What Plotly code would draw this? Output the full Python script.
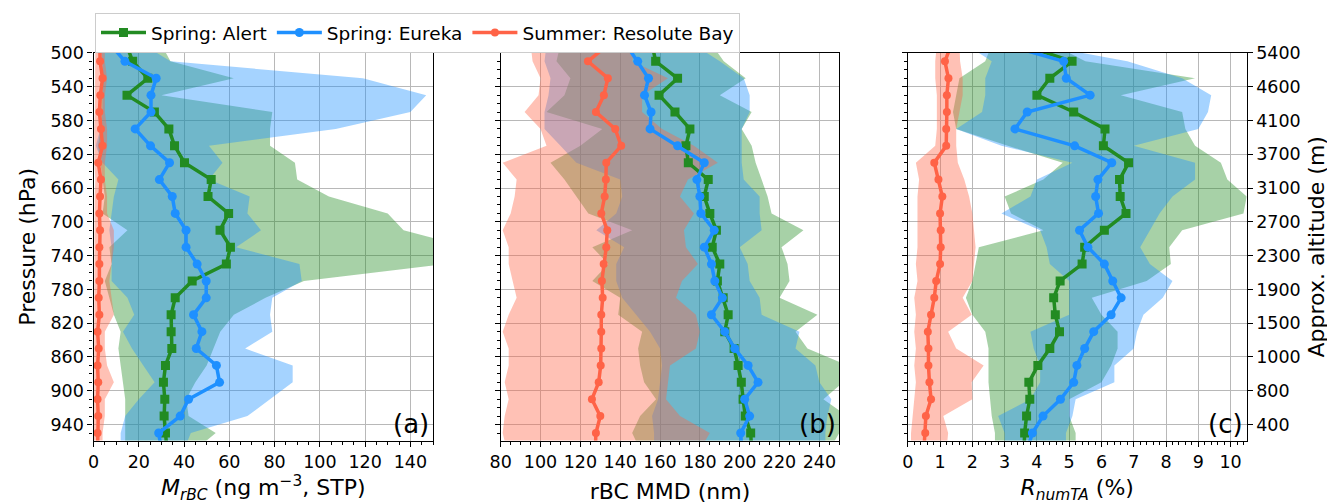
import plotly.graph_objects as go

# ---------------- data ----------------
levels = [490, 510, 530, 550, 570, 590, 610, 630, 650, 670, 690, 710, 730,
          750, 770, 790, 810, 830, 850, 870, 890, 910, 930, 950, 970]

p_ticks = [500, 540, 580, 620, 660, 700, 740, 780, 820, 860, 900, 940]
alt_labels = ["5400", "4600", "4100", "3700", "3100", "2700", "2300",
              "1900", "1500", "1000", "800", "400"]

series_names = ["Spring: Alert", "Spring: Eureka", "Summer: Resolute Bay"]

# panel (a): M_rBC
alert_a = [14.5, 17.3, 24.0, 14.8, 26.9, 33.3, 35.8, 40.2, 52.0, 50.6, 59.7, 55.9, 60.5,
           58.7, 43.6, 36.1, 34.3, 34.3, 34.6, 31.8, 30.9, 31.5, 31.2, 31.8, 32.5]
eureka_a = [7.5, 13.9, 27.7, 25.4, 25.4, 18.4, 25.2, 33.6, 29.1, 34.8, 36.1, 40.9, 40.9,
            45.8, 49.8, 49.8, 44.2, 47.9, 45.4, 54.3, 55.7, 42.0, 38.3, 28.8, 30.0]
resolute_a = [2.8, 2.9, 4.0, 3.0, 2.6, 3.3, 4.0, 2.1, 3.3, 2.9, 2.6, 2.9, 2.6,
              2.6, 2.6, 2.3, 2.6, 1.8, 2.3, 1.8, 2.1, 1.8, 2.1, 1.8, 1.8]
alert_a_lo = [3, 4, 4, 3, 3, 3, 2, 3, 4, 5, 4, 15, 7, 8, 5, 7, 9, 12, 11, 12, 13, 14, 14, 14, 14]
alert_a_hi = [30, 34, 62, 30, 79, 78, 78, 89, 90, 104, 130, 137, 165,
              155, 93, 76, 62, 56, 53, 50, 45, 41, 42, 54, 45]
eureka_a_lo = [3, 3, 4, 4, 4, 3, 1, 4, 11, 9, 8, 7, 8, 8, 8, 15, 18, 13, 17, 22, 27, 20, 14, 12, 12]
eureka_a_hi = [22, 34, 119, 147, 140, 107, 51, 57, 51, 69, 68, 74, 63,
               91, 92, 79, 78, 79, 67, 88, 88, 78, 68, 43, 40]
resolute_a_lo = [0.8, 0.8, 0.5, 0.5, 0.6, 0.3, 0.5, 0.3, 0.8, 0.5, 0.5, 0.4, 0.4,
                 0.3, 0.3, 0.3, 0.2, 0.2, 0.2, 0.2, 0.2, 0.2, 0.2, 0.2, 0.2]
resolute_a_hi = [5, 5, 6, 5, 5, 6, 6, 5, 5, 6, 6, 9, 9, 8, 7, 8, 9, 5, 5, 6, 9, 5, 5, 4, 4]

# panel (b): rBC MMD
alert_b = [156, 157.8, 168.8, 159.5, 167.5, 175.0, 173.0, 174.2, 184.2, 182.2, 185.0, 188.3, 186.2,
           190.0, 188.8, 191.7, 194.2, 192.5, 197.2, 199.2, 200.8, 201.7, 202.8, 205.5, 206]
eureka_b = [143, 148.8, 154.2, 152.2, 155.5, 155.0, 168.8, 182.2, 178.5, 180.0, 180.5, 187.2, 182.2,
            185.8, 187.5, 191.3, 185.8, 192.5, 197.5, 204.2, 209.2, 202.5, 205.0, 200.5, 201]
resolute_b = [134, 123.8, 133.8, 131.8, 127.8, 137.5, 140.5, 133.0, 132.8, 132.2, 130.5, 133.5, 133.0,
              131.7, 130.8, 131.2, 130.5, 130.5, 130.5, 130.2, 129.2, 125.8, 130.0, 127.8, 127.5]
alert_b_lo = [110, 108, 115, 112, 103, 131, 120, 105, 112, 118, 124, 146, 126,
              134, 126, 140, 139, 151, 149, 150, 152, 158, 150, 146, 150]
alert_b_hi = [186, 192, 203, 190, 206, 201, 206, 208, 211, 214, 216, 232, 221,
              224, 225, 220, 239, 228, 234, 254, 252, 242, 254, 250, 245]
eureka_b_lo = [103, 102, 105, 104, 102, 102, 110, 118, 140, 141, 138, 128, 142,
               138, 138, 141, 148, 155, 160, 161, 160, 159, 156, 157, 157]
eureka_b_hi = [177, 190, 202, 205, 205, 201, 201, 201, 202, 210, 210, 211, 200,
               204, 205, 210, 211, 230, 228, 238, 240, 246, 244, 243, 243]
resolute_b_lo = [95, 96, 100, 99, 92, 100, 103, 81, 88, 87, 85, 81, 84,
                 84, 86, 88, 84, 81, 84, 84, 82, 84, 82, 81, 83]
resolute_b_hi = [148, 146, 164, 151, 151, 161, 177, 189, 174, 170, 177, 172, 173,
                 179, 171, 168, 178, 180, 178, 165, 164, 163, 170, 185, 180]

# panel (c): R_numTA
alert_c = [3.5, 5.09, 4.40, 4.0, 5.14, 6.11, 6.06, 6.84, 6.56, 6.58, 6.76, 6.09, 5.48,
           5.40, 4.72, 4.52, 4.57, 4.70, 4.40, 4.03, 3.75, 3.78, 3.68, 3.62, 3.6]
eureka_c = [3.0, 4.83, 4.91, 5.65, 3.70, 3.32, 5.17, 6.32, 5.89, 5.82, 5.91, 5.32, 5.58,
            6.09, 6.35, 6.61, 6.30, 5.76, 5.48, 5.24, 5.14, 4.73, 4.19, 3.86, 3.7]
resolute_c = [1.35, 1.15, 1.26, 1.21, 1.21, 1.19, 1.19, 0.82, 0.95, 1.07, 1.0, 1.02, 1.02,
              1.0, 0.88, 0.82, 0.72, 0.62, 0.64, 0.64, 0.67, 0.72, 0.56, 0.54, 0.5]
alert_c_lo = [2.6, 2.4, 1.6, 1.5, 1.4, 1.5, 3.1, 4.8, 4.2, 3.0, 3.2, 4.2, 2.2,
              2.1, 2.0, 1.8, 2.0, 2.4, 2.5, 2.5, 2.5, 2.55, 2.6, 2.7, 2.7]
alert_c_hi = [4.5, 5.5, 8.9, 6.6, 8.5, 8.6, 8.9, 9.7, 9.9, 10.5, 10.4, 8.5, 8.1,
              8.15, 7.4, 5.7, 6.0, 6.5, 6.5, 6.3, 6.0, 5.0, 5.0, 5.2, 5.2]
eureka_c_lo = [1.8, 2.6, 2.4, 2.4, 2.3, 1.5, 2.9, 5.1, 4.0, 3.8, 2.9, 4.1, 4.3,
               4.4, 5.0, 5.0, 5.0, 3.8, 3.9, 4.1, 4.1, 3.8, 2.8, 3.0, 3.0]
eureka_c_hi = [4.0, 6.8, 8.5, 9.4, 9.3, 9.0, 7.0, 8.9, 8.9, 8.2, 7.8, 7.5, 7.2,
               7.5, 8.2, 7.9, 7.3, 7.1, 7.0, 6.4, 6.4, 5.2, 5.1, 4.9, 4.9]
resolute_c_lo = [0.9, 0.85, 0.85, 0.9, 0.9, 0.9, 0.85, 0.25, 0.35, 0.3, 0.3, 0.3, 0.3,
                 0.25, 0.3, 0.2, 0.25, 0.2, 0.25, 0.2, 0.25, 0.2, 0.15, 0.1, 0.1]
resolute_c_hi = [1.6, 1.62, 1.7, 1.7, 1.6, 1.5, 1.5, 1.55, 1.75, 1.9, 2.0, 2.05, 2.1,
                 2.05, 2.0, 1.7, 1.98, 1.25, 1.5, 2.35, 1.98, 2.0, 1.1, 1.25, 1.2]

# ---------------- layout geometry ----------------
# the page body has an 8px margin; the figure is sized to fill the rest
OFF = 8
W, H = 1335 - OFF, 504 - OFF


def fx(px):
    return (px - OFF) / W


def fy(py):
    return 1 - (py - OFF) / H


FONT = "DejaVu Sans"
line_colors = ["#228B22", "#1E90FF", "#FF6347"]
fill_colors = ["rgba(34,139,34,0.4)", "rgba(30,144,255,0.4)", "rgba(255,99,71,0.4)"]
symbols = ["square", "circle", "circle"]
msizes = [9, 9, 8]

panels = [
    ("x", "y", [alert_a, eureka_a, resolute_a],
     [(alert_a_lo, alert_a_hi), (eureka_a_lo, eureka_a_hi), (resolute_a_lo, resolute_a_hi)]),
    ("x2", "y2", [alert_b, eureka_b, resolute_b],
     [(alert_b_lo, alert_b_hi), (eureka_b_lo, eureka_b_hi), (resolute_b_lo, resolute_b_hi)]),
    ("x3", "y3", [alert_c, eureka_c, resolute_c],
     [(alert_c_lo, alert_c_hi), (eureka_c_lo, eureka_c_hi), (resolute_c_lo, resolute_c_hi)]),
]

fig = go.Figure()
for pi, (xa, ya, lines, bands) in enumerate(panels):
    for si, (lo, hi) in enumerate(bands):
        fig.add_trace(go.Scatter(
            x=list(lo) + list(hi)[::-1], y=levels + levels[::-1],
            xaxis=xa, yaxis=ya, mode="lines", fill="toself",
            fillcolor=fill_colors[si], line=dict(width=0),
            hoverinfo="skip", showlegend=False))
    for si, vals in enumerate(lines):
        fig.add_trace(go.Scatter(
            x=vals, y=levels, xaxis=xa, yaxis=ya, mode="lines+markers",
            name=series_names[si], showlegend=(pi == 0),
            line=dict(color=line_colors[si], width=3.5),
            marker=dict(symbol=symbols[si], size=msizes[si], color=line_colors[si])))

# helper trace so the right-hand altitude axis is drawn
fig.add_trace(go.Scatter(x=[alert_c[5]], y=[levels[5]], xaxis="x3", yaxis="y4",
                         mode="markers", marker=dict(opacity=0), hoverinfo="skip",
                         showlegend=False))

ydom = [fy(440.6), fy(52.9)]
xdoms = [[fx(93.5), fx(433.0)], [fx(500.7), fx(839.3)], [fx(907.8), fx(1246.7)]]
yrange = [959, 500]

tickfont = dict(family=FONT, size=17.5, color="black")
titlefont = dict(family=FONT, size=22, color="black")


def xaxis_cfg(dom, rng, dtick, minor_dtick, title, anchor):
    return dict(domain=dom, range=rng, anchor=anchor, dtick=dtick, tick0=0,
                automargin=False,
                showline=True, linecolor="black", linewidth=1.2, mirror=True,
                ticks="outside", ticklen=5, tickcolor="black", tickfont=tickfont,
                showgrid=True, gridcolor="#b8b8b8", gridwidth=1, zeroline=False,
                minor=dict(dtick=minor_dtick, ticks="outside", ticklen=3,
                           tickcolor="black", showgrid=False),
                title=dict(text=title, font=titlefont, standoff=18))


def yaxis_cfg(anchor, labels, title=None):
    d = dict(domain=ydom, range=yrange, anchor=anchor, tickvals=p_ticks,
             showticklabels=labels, automargin=False,
             showline=True, linecolor="black", linewidth=1.2, mirror=True,
             ticks="outside", ticklen=5, tickcolor="black", tickfont=tickfont,
             showgrid=True, gridcolor="#b8b8b8", gridwidth=1, zeroline=False,
             minor=dict(dtick=10, tick0=500, ticks="outside", ticklen=3,
                        tickcolor="black", showgrid=False))
    if title:
        d["title"] = dict(text=title, font=titlefont, standoff=8)
    return d


fig.update_layout(
    width=W, height=H,
    margin=dict(l=0, r=0, t=0, b=0, autoexpand=False),
    paper_bgcolor="white", plot_bgcolor="white",
    font=dict(family=FONT, color="black"),
    xaxis=xaxis_cfg(xdoms[0], [0, 150], 20, 5,
                    "<i>M</i><sub><i>rBC</i></sub> (ng m<sup>−3</sup>, STP)", "y"),
    xaxis2=xaxis_cfg(xdoms[1], [80, 250], 20, 5, "rBC MMD (nm)", "y2"),
    xaxis3=xaxis_cfg(xdoms[2], [0, 10.5], 1, 0.2,
                     "<i>R</i><sub><i>numTA</i></sub> (%)", "y3"),
    yaxis=yaxis_cfg("x", True, "Pressure (hPa)"),
    yaxis2=yaxis_cfg("x2", False),
    yaxis3=yaxis_cfg("x3", False),
    yaxis4=dict(domain=ydom, range=yrange, anchor="x3", overlaying="y3", side="right",
                automargin=False,
                tickvals=p_ticks, ticktext=alt_labels, ticks="outside", ticklen=5,
                tickcolor="black", tickfont=tickfont, showgrid=False, zeroline=False,
                showline=False,
                title=dict(text="Approx. altitude (m)", font=titlefont, standoff=8)),
    legend=dict(orientation="h", x=fx(95), y=fy(13), xanchor="left", yanchor="top",
                bgcolor="white", bordercolor="#cccccc", borderwidth=1,
                font=dict(family=FONT, size=18.5, color="black"),
                itemwidth=45, tracegroupgap=0),
)

for xa, ya, lab in [("x", "y", "(a)"), ("x2", "y2", "(b)"), ("x3", "y3", "(c)")]:
    fig.add_annotation(text=lab, xref=f"{xa} domain", yref=f"{ya} domain",
                       x=0.995, y=0.0, xanchor="right", yanchor="bottom",
                       showarrow=False, font=dict(family=FONT, size=26, color="black"))

fig.write_html("out.html")
